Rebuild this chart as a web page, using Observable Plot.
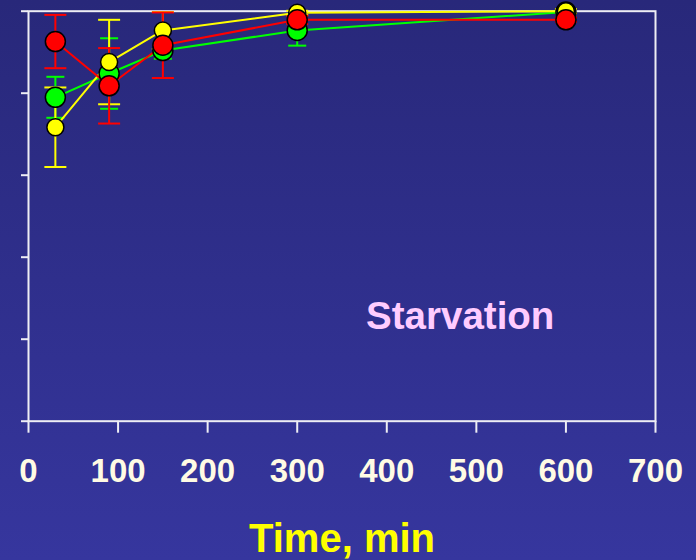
<!DOCTYPE html>
<html>
<head>
<meta charset="utf-8">
<script src="https://cdn.jsdelivr.net/npm/d3@7"></script>
<script src="https://cdn.jsdelivr.net/npm/@observablehq/plot@0.6"></script>
<style>
  html, body { margin: 0; padding: 0; }
  body { width: 696px; height: 560px; background: linear-gradient(#28287a, #36369e); overflow: hidden; }
  #chart svg { display: block; }
</style>
</head>
<body>
<div id="chart"></div>
<script>
// ---- data ----
const times = [30, 90, 150, 300, 600];
const seriesNames = ["green", "yellow", "red"];
const greenValues  = [79.0, 84.8, 90.4, 95.3, 99.8];
const greenErrors  = [5.0, 8.6, 2.0, 3.7, 0.5];
const yellowValues = [71.7, 87.6, 95.3, 99.6, 100.0];
const yellowErrors = [9.7, 10.3, 4.5, 0.5, 0.5];
const redValues    = [92.6, 81.8, 91.7, 97.9, 97.9];
const redErrors    = [6.5, 9.2, 8.0, 1.0, 0.5];
const xTicks = [0, 100, 200, 300, 400, 500, 600, 700];
const yTicks = [0, 20, 40, 60, 80, 100];
const annotation = "Starvation";
const xTitle = "Time, min";

// ---- styling ----
const colors = {green: "#00ff00", yellow: "#ffff00", red: "#ff0000"};
const radius = {green: 10, yellow: 8.5, red: 10};
const capHalf = {green: 9, yellow: 11, red: 11};

const valuesBy = {green: greenValues, yellow: yellowValues, red: redValues};
const errorsBy = {green: greenErrors, yellow: yellowErrors, red: redErrors};
const rows = seriesNames.flatMap(s => times.map((t, i) => ({
  series: s, time: t, value: valuesBy[s][i],
  lo: valuesBy[s][i] - errorsBy[s][i], hi: valuesBy[s][i] + errorsBy[s][i]
})));

const capSymbol = {
  draw(ctx, size) {
    const r = Math.sqrt(size / Math.PI);
    ctx.moveTo(-r, 0);
    ctx.lineTo(r, 0);
  }
};

const font = "'Liberation Sans', Arial, sans-serif";
const marks = [];
// error bars
for (const s of seriesNames) {
  const d = rows.filter(r => r.series === s);
  marks.push(Plot.ruleX(d, {x: "time", y1: "lo", y2: "hi", stroke: colors[s], strokeWidth: 2}));
  marks.push(Plot.dot(d, {x: "time", y: "lo", symbol: capSymbol, r: capHalf[s], stroke: colors[s], strokeWidth: 2, fill: "none"}));
  marks.push(Plot.dot(d, {x: "time", y: "hi", symbol: capSymbol, r: capHalf[s], stroke: colors[s], strokeWidth: 2, fill: "none"}));
}
// lines
for (const s of seriesNames) {
  const d = rows.filter(r => r.series === s);
  marks.push(Plot.line(d, {x: "time", y: "value", stroke: colors[s], strokeWidth: 2}));
}
// dots
for (const s of seriesNames) {
  const d = rows.filter(r => r.series === s);
  marks.push(Plot.dot(d, {x: "time", y: "value", r: radius[s], fill: colors[s], stroke: "#000", strokeWidth: 1.5}));
}

const chart = Plot.plot({
  width: 696,
  height: 560,
  marginTop: 10.7,
  marginLeft: 28,
  marginRight: 41,
  marginBottom: 139.3,
  style: {background: "transparent", fontFamily: font, overflow: "visible"},
  x: {domain: [0, 700]},
  y: {domain: [0, 100]},
  marks: [
    Plot.frame({stroke: "#eeeef4", strokeWidth: 2}),
    Plot.axisY({ticks: yTicks, tickSize: 7, tickFormat: () => "", stroke: "#eeeef4", strokeWidth: 2, label: null}),
    Plot.axisX({ticks: xTicks, tickSize: 12, tickPadding: 25, stroke: "#eeeef4", strokeWidth: 2,
      fill: "#fffbe4", fontSize: 33, fontWeight: "bold", fontFamily: font, label: null}),
    ...marks,
    Plot.text([annotation], {text: d => d, x: 482, y: 25.4, fill: "#ffccff", fontSize: 38.5, fontWeight: "bold", fontFamily: font, lineAnchor: "middle", textAnchor: "middle"}),
    Plot.text([xTitle], {text: d => d, frameAnchor: "bottom", dy: 118, fill: "#ffff00", fontSize: 40, fontWeight: "bold", fontFamily: font, lineAnchor: "middle", textAnchor: "middle"})
  ]
});
document.getElementById("chart").append(chart);
</script>
</body>
</html>
